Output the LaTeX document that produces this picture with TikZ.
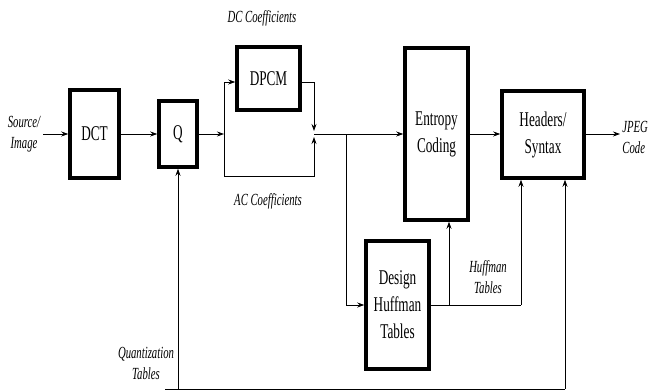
\documentclass[tikz,border=0pt]{standalone}
\usepackage{fontspec}
\setmainfont{Liberation Serif}
\newfontfamily\narrowfont[FakeStretch=0.63]{Liberation Serif}
\usetikzlibrary{arrows.meta,positioning}
\tikzset{
  blockbox/.style={draw,line width=3.5pt,inner sep=0pt,align=center,
    font=\narrowfont\fontsize{21}{27}\selectfont},
  sidelabel/.style={align=center,inner sep=0pt,
    font=\narrowfont\itshape\fontsize{17}{21}\selectfont}
}
\begin{document}
\begin{tikzpicture}[x=1pt,y=-1pt,>={Stealth[length=7pt,width=5pt]},line width=0.8pt]
\useasboundingbox (0,0) rectangle (649,391);

\node[blockbox,minimum width=49pt,minimum height=88pt] (dct) at (94.5,134) {DCT};
\node[blockbox,minimum width=38pt,minimum height=66pt] (quant) at (178,134) {Q};
\node[blockbox,minimum width=63pt,minimum height=63pt] (dpcm) at (268.5,78.5) {DPCM};
\node[blockbox,minimum width=63pt,minimum height=172pt] (entropy) at (436.5,134) {Entropy\\Coding};
\node[blockbox,minimum width=82pt,minimum height=87pt] (headers) at (543,134.5) {Headers/\\Syntax};
\node[blockbox,minimum width=63pt,minimum height=128pt] (design) at (397.5,305) {Design\\Huffman\\Tables};

\node[sidelabel] (srclab) at (24,134) {Source/\\Image};
\node[sidelabel] (dclab) at (262,18) {DC Coefficients};
\node[sidelabel] (aclab) at (268,201) {AC Coefficients};
\node[sidelabel] (qtlab) at (146,363) {Quantization\\Tables};
\node[sidelabel] (htlab) at (488,277) {Huffman\\Tables};
\node[sidelabel,anchor=west,align=left] (jpeglab) at (622,137) {JPEG\\Code};

\coordinate (src) at (43,134);
\coordinate (split) at (224,134);
\coordinate (dcin) at (224,82);
\coordinate (dcout) at (314,82);
\coordinate (acl) at (224,176);
\coordinate (acr) at (314,176);
\coordinate (merge) at (314,134);
\coordinate (branch) at (346,134);
\coordinate (tabmid) at (449,305);
\coordinate (tabend) at (521,305);
\coordinate (qtstart) at (165,389);
\coordinate (qtmid) at (178,389);
\coordinate (qtend) at (565,389);
\coordinate (jpeg) at (620,134);

\draw[->] (src) -- (dct.west);
\draw[->] (dct.east) -- (quant.west);
\draw[->] (quant.east) -- (split);
\draw[->] (acl) -- (dcin) -- (dcin -| dpcm.west);
\draw[->] (dcin -| dpcm.east) -- (dcout) -- ([yshift=3pt]merge);
\draw[->] (acl) -- (acr) -- ([yshift=-3pt]merge);
\draw[->] (merge) -- (entropy.west);
\draw[->] (branch) |- (design.west);
\draw (design.east) -- (tabend);
\draw[->] (tabmid) -- (tabmid |- entropy.south);
\draw[->] (tabend) -- (tabend |- headers.south);
\draw[->] (entropy.east) -- (entropy.east -| headers.west);
\draw[->] (headers.east |- jpeg) -- (jpeg);
\draw (qtstart) -- (qtend);
\draw[->] (qtmid) -- (quant.south);
\draw[->] (qtend) -- (qtend |- headers.south);
\end{tikzpicture}
\end{document}
